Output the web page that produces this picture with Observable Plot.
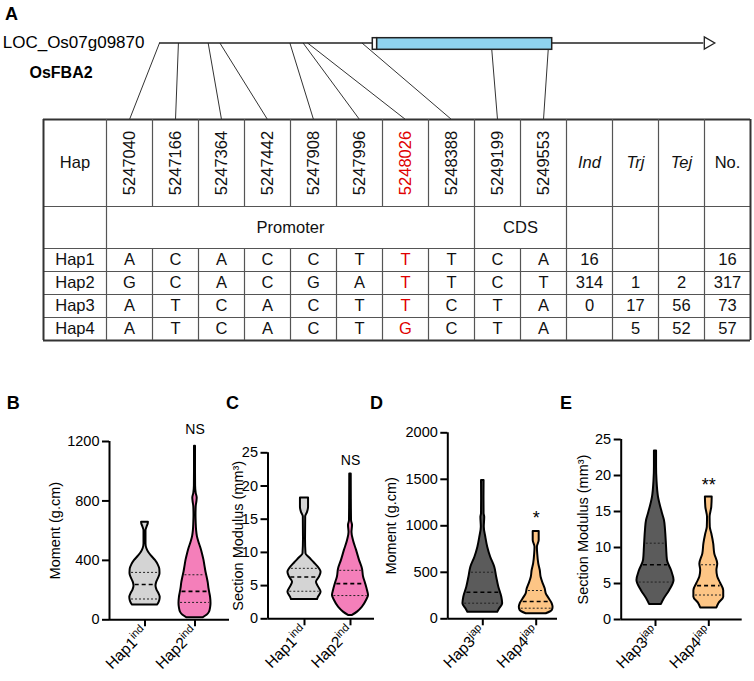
<!DOCTYPE html>
<html><head><meta charset="utf-8">
<script src="https://cdn.jsdelivr.net/npm/d3@7"></script>
<script src="https://cdn.jsdelivr.net/npm/@observablehq/plot@0.6"></script>
<style>
body{margin:0;background:#fff;}
#wrap{position:relative;width:754px;height:681px;overflow:hidden;font-family:"Liberation Sans",Arial,sans-serif;color:#000;}
#wrap svg{position:absolute;left:0;top:0;}
.pl{position:absolute;font-weight:bold;font-size:18px;line-height:18px;}
</style></head><body><div id="wrap"></div>
<script>
// ---------------- DATA ----------------
const geneName = "LOC_Os07g09870";
const geneAlias = "OsFBA2";
// gene model breakpoints (bp): line start, 5'UTR start, CDS start, CDS end, gene end
const geneBreaks = [5247040, 5248460, 5248480, 5249578, 5250600];
const snpPositions = [5247040, 5247166, 5247364, 5247442, 5247908, 5247996, 5248026, 5248388, 5249199, 5249553];
const keySnp = 5248026;
const regionNames = ["Promoter", "CDS"];
const regionSizes = [8, 2];
const popColumns = ["Ind", "Trj", "Tej", "No."];
const hapNames = ["Hap1", "Hap2", "Hap3", "Hap4"];
const hapAlleles = [
  ["A","C","A","C","C","T","T","T","C","A"],
  ["G","C","A","C","G","A","T","T","C","T"],
  ["A","T","C","A","C","T","T","C","T","A"],
  ["A","T","C","A","C","T","G","C","T","A"]
];
const indCounts = [16, 314, 0, null];
const trjCounts = [null, 1, 17, 5];
const tejCounts = [null, 2, 56, 52];
const totalCounts = [16, 317, 73, 57];

// violin profiles: [value, relative density]
const bHap1 = [[99,0.62],[110,0.68],[130,0.74],[150,0.76],[175,0.7],[200,0.6],[225,0.55],[250,0.58],[280,0.68],[310,0.75],[340,0.74],[370,0.66],[400,0.52],[430,0.32],[455,0.18],[480,0.09],[510,0.05],[600,0.05],[615,0.08],[630,0.12],[645,0.16],[657,0.17]];
const bHap2 = [[13,0.4],[30,0.6],[50,0.72],[80,0.78],[110,0.8],[150,0.78],[180,0.74],[210,0.7],[250,0.66],[290,0.6],[320,0.55],[360,0.5],[400,0.45],[440,0.38],[480,0.3],[520,0.2],[560,0.12],[600,0.08],[650,0.06],[700,0.05],[760,0.06],[800,0.1],[820,0.11],[850,0.06],[900,0.03],[1000,0.025],[1168,0.025]];
const cHap1 = [[2.9,0.71],[3.25,0.76],[4.0,0.9],[4.8,0.76],[5.5,0.65],[6.3,0.82],[7.0,0.9],[7.5,0.82],[8.4,0.54],[9.2,0.27],[9.8,0.08],[12,0.055],[15.4,0.065],[16.0,0.16],[16.8,0.22],[18.2,0.22]];
const cHap2 = [[0.5,0.11],[1.0,0.38],[1.75,0.65],[2.75,0.87],[3.5,0.98],[4.3,0.92],[5.3,0.82],[6.3,0.71],[7.5,0.65],[8.8,0.49],[10.3,0.33],[11.8,0.16],[13.0,0.08],[14.05,0.11],[14.8,0.055],[18,0.045],[21.8,0.04]];
const dHap3 = [[71,0.7],[108,0.79],[161,0.93],[232,0.89],[340,0.75],[447,0.65],[555,0.56],[662,0.37],[770,0.23],[877,0.14],[985,0.07],[1092,0.09],[1129,0.06],[1300,0.056],[1487,0.06]];
const dHap4 = [[54,0.47],[89,0.75],[125,0.79],[161,0.75],[215,0.61],[269,0.47],[323,0.42],[376,0.33],[447,0.23],[519,0.19],[591,0.12],[699,0.07],[770,0.056],[842,0.14],[939,0.14]];
const eHap3 = [[2.1,0.28],[2.9,0.42],[4.0,0.66],[5.4,0.87],[6.8,0.75],[8.2,0.56],[10.0,0.52],[12.4,0.47],[13.75,0.42],[14.7,0.33],[17.0,0.14],[19.3,0.07],[21.2,0.05],[23.4,0.05]];
const eHap4 = [[1.6,0.38],[2.2,0.47],[3.1,0.7],[4.0,0.7],[5.0,0.56],[5.9,0.42],[6.8,0.38],[7.7,0.42],[9.1,0.28],[10.5,0.23],[11.9,0.14],[12.8,0.07],[14.2,0.06],[15.6,0.14],[17.0,0.16]];
// quartiles [q1, median, q3]
const bQuart = [[140,238,319],[117,191,303]];
const cQuart = [[4.15,6.3,7.6],[3.5,5.3,7.3]];
const dQuart = [[168,286,501],[114,186,304]];
const eQuart = [[5.2,7.6,10.6],[3.4,4.7,7.6]];
const indLabels = ["Hap1|ind", "Hap2|ind"];
const japLabels = ["Hap3|jap", "Hap4|jap"];
const momentTicks = [0, 400, 800, 1200];
const modulusTicks = [0, 5, 10, 15, 20, 25];
const momentTicksJap = [0, 500, 1000, 1500, 2000];
const sigLabels = ["NS", "NS", "*", "**"];

// ---------------- LAYOUT ----------------
const W = 754, H = 681;
const FONT = '"Liberation Sans", Arial, sans-serif';
const wrap = document.getElementById("wrap");
const T = {left: 43, firstW: 63, colW: 46, rows: [119, 206, 248, 271, 294, 317, 340]};
const colEdge = k => k === 0 ? T.left : T.left + T.firstW + (k - 1) * T.colW;
const colMid = k => (colEdge(k) + colEdge(k + 1)) / 2;
const nCols = 1 + snpPositions.length + popColumns.length;
const rowMid = r => (T.rows[r] + T.rows[r + 1]) / 2;
const geneY = 42.5, boxTop = 37.7, boxBottom = 49.3;
const geneX = Plot.scale({x: {type: "linear", domain: geneBreaks, range: [159, 372.3, 376.7, 551.7, 703.3]}});
const cdsStart = geneBreaks[2];

// ---- table geometry
const hLinesInner = T.rows.slice(1, -1).map(y => ({y}));
const hLinesOuter = [T.rows[0], T.rows[T.rows.length - 1]].map(y => ({y}));
const merged = new Set();
let start = 1;
regionSizes.forEach(n => { for (let k = start + 1; k < start + n; k++) merged.add(k); start += n; });
const vSegs = [];
for (let k = 0; k <= nCols; k++) {
  const outer = k === 0 || k === nCols;
  vSegs.push({x: colEdge(k), y1: T.rows[0], y2: T.rows[1], outer});
  if (!merged.has(k)) vSegs.push({x: colEdge(k), y1: T.rows[1], y2: T.rows[2], outer});
  vSegs.push({x: colEdge(k), y1: T.rows[2], y2: T.rows[6], outer});
}
const cells = [];
cells.push({x: colMid(0), y: rowMid(0), text: "Hap", red: false});
popColumns.forEach((p, j) => { if (p === "No.") cells.push({x: colMid(11 + j), y: rowMid(0), text: p, red: false}); });
start = 1;
regionNames.forEach((r, i) => {
  const n = regionSizes[i];
  cells.push({x: (colEdge(start) + colEdge(start + n)) / 2, y: rowMid(1), text: r, red: false});
  start += n;
});
hapNames.forEach((h, i) => {
  const y = rowMid(2 + i);
  cells.push({x: colMid(0), y, text: h, red: false});
  hapAlleles[i].forEach((a, j) => cells.push({x: colMid(1 + j), y, text: a, red: snpPositions[j] === keySnp}));
  [indCounts, trjCounts, tejCounts, totalCounts].forEach((arr, j) => {
    if (arr[i] !== null) cells.push({x: colMid(11 + j), y, text: String(arr[i]), red: false});
  });
});
const snpHead = snpPositions.map((p, j) => ({x: colMid(1 + j), y: rowMid(0), text: String(p), red: p === keySnp}));
const popHead = popColumns.filter(p => p !== "No.").map(p => ({x: colMid(11 + popColumns.indexOf(p)), y: rowMid(0), text: p}));
const links = snpPositions.map((p, j) => ({
  x1: geneX.apply(p), y1: p >= cdsStart ? boxBottom : geneY, x2: colMid(1 + j), y2: T.rows[0]
}));

const plotA = Plot.plot({
  width: W, height: H, margin: 0,
  x: {type: "identity", axis: null}, y: {type: "identity", axis: null},
  style: {fontFamily: FONT, fontSize: "16.5px", color: "black", background: "transparent"},
  marks: [
    Plot.link(links, {x1: "x1", y1: "y1", x2: "x2", y2: "y2", stroke: "#333", strokeWidth: 1}),
    Plot.ruleY([geneY], {x1: geneX.apply(geneBreaks[0]), x2: geneX.apply(geneBreaks[4]), stroke: "#222", strokeWidth: 1.5}),
    Plot.rect([0], {x1: geneX.apply(geneBreaks[1]), x2: geneX.apply(geneBreaks[2]), y1: boxTop, y2: boxBottom, fill: "white", stroke: "#222", strokeWidth: 1.5}),
    Plot.rect([0], {x1: geneX.apply(geneBreaks[2]), x2: geneX.apply(geneBreaks[3]), y1: boxTop, y2: boxBottom, fill: "#8fd3ef", stroke: "#222", strokeWidth: 1.5}),
    Plot.dot([0], {x: geneX.apply(geneBreaks[4]), y: geneY, dx: 4, symbol: "triangle", rotate: 90, r: 4.5, fill: "white", stroke: "#222", strokeWidth: 1.3}),
    Plot.text([geneName], {x: geneX.apply(geneBreaks[0]), y: geneY, dx: -15, textAnchor: "end", fontSize: 17}),
    Plot.text([geneAlias], {x: geneX.apply(geneBreaks[0]), y: geneY, dx: -130, dy: 30, textAnchor: "start", fontSize: 16, fontWeight: "bold"}),
    Plot.ruleY(hLinesInner, {y: "y", x1: T.left, x2: colEdge(nCols), stroke: "#555", strokeWidth: 1.2}),
    Plot.ruleY(hLinesOuter, {y: "y", x1: T.left, x2: colEdge(nCols), stroke: "#333", strokeWidth: 2}),
    Plot.ruleX(vSegs.filter(d => !d.outer), {x: "x", y1: "y1", y2: "y2", stroke: "#555", strokeWidth: 1.2}),
    Plot.ruleX(vSegs.filter(d => d.outer), {x: "x", y1: "y1", y2: "y2", stroke: "#333", strokeWidth: 2}),
    Plot.text(cells.filter(d => !d.red), {x: "x", y: "y", text: "text", fill: "#111"}),
    Plot.text(cells.filter(d => d.red), {x: "x", y: "y", text: "text", fill: "#e00000"}),
    Plot.text(snpHead.filter(d => !d.red), {x: "x", y: "y", text: "text", rotate: -90, fill: "#111"}),
    Plot.text(snpHead.filter(d => d.red), {x: "x", y: "y", text: "text", rotate: -90, fill: "#e00000"}),
    Plot.text(popHead, {x: "x", y: "y", text: "text", fontStyle: "italic", fill: "#111"})
  ]
});
wrap.appendChild(plotA);

// ---- violin panels
function widthAt(profile, v) {
  for (let i = 1; i < profile.length; i++) {
    if (v <= profile[i][0]) {
      const [a, wa] = profile[i - 1], [b, wb] = profile[i];
      return wa + (wb - wa) * (v - a) / (b - a);
    }
  }
  return profile[profile.length - 1][1];
}
function violinPanel(o) {
  const unit = o.tickPx[1] - o.tickPx[0];
  const lo = 1 - (o.tickPx[0] - o.axisLeft) / unit;
  const hi = 2 + (o.axisRight - o.tickPx[1]) / unit;
  const HW = 0.4;
  const yMax = o.yTicks[o.yTicks.length - 1];
  const marks = [];
  o.groups.forEach((g, i) => {
    const c = i + 1;
    marks.push(Plot.areaX(g.profile, {y: d => d[0], x1: d => c - d[1] * HW, x2: d => c + d[1] * HW,
      fill: g.fill, stroke: "black", strokeWidth: 2, curve: "monotone-y"}));
    const q = g.quart.map((v, k) => ({v, k, w: widthAt(g.profile, v) * HW}));
    marks.push(Plot.ruleY(q.filter(d => d.k !== 1), {y: "v", x1: d => c - d.w + 0.03, x2: d => c + d.w - 0.03,
      stroke: "#222", strokeWidth: 1, strokeDasharray: "2,2"}));
    marks.push(Plot.ruleY(q.filter(d => d.k === 1), {y: "v", x1: d => c - d.w + 0.03, x2: d => c + d.w - 0.03,
      stroke: "#000", strokeWidth: 1.6, strokeDasharray: "4,3"}));
  });
  marks.push(
    Plot.ruleX([lo], {y1: 0, y2: yMax, strokeWidth: 2}),
    Plot.ruleY([0], {x1: lo, x2: hi, strokeWidth: 2}),
    Plot.axisY({ticks: o.yTicks, tickFormat: d => String(d), tickSize: 7, tickPadding: 3, fontSize: 14.5, label: null, strokeWidth: 2}),
    Plot.axisX({ticks: [1, 2], tickFormat: d => o.labels[d - 1], tickRotate: -45, tickSize: 7, tickPadding: 3, fontSize: 15.5, label: null, strokeWidth: 2}),
    Plot.text([o.yLabel], {frameAnchor: "left", textAnchor: "middle", dx: o.labelDx, rotate: -90, fontSize: 14.5}),
    Plot.text([o.sig], {x: 2, y: o.groups[1].profile[o.groups[1].profile.length - 1][0], dy: o.sigDy, fontSize: o.sigSize})
  );
  const svg = Plot.plot({
    width: W, height: H,
    marginLeft: o.axisLeft, marginRight: W - o.axisRight, marginTop: o.yTopPx, marginBottom: H - o.y0Px,
    x: {domain: [lo, hi]}, y: {domain: [0, yMax]},
    style: {fontFamily: FONT, fontSize: "14.5px", color: "black", background: "transparent", overflow: "visible"},
    marks
  });
  svg.querySelectorAll('g[aria-label="x-axis tick label"] text').forEach(t => {
    const s = t.textContent;
    if (s.includes("|")) {
      const [base, sup] = s.split("|");
      t.textContent = base;
      const ts = document.createElementNS("http://www.w3.org/2000/svg", "tspan");
      ts.setAttribute("dy", "-6");
      ts.setAttribute("font-size", "11");
      ts.textContent = sup;
      t.appendChild(ts);
    }
  });
  wrap.appendChild(svg);
}
const gray = "#d4d4d4", pink = "#f47fba", dark = "#5b5b5b", orange = "#fdc585";
violinPanel({axisLeft: 109, axisRight: 229, y0Px: 619.3, yTopPx: 441, tickPx: [144.5, 194.5], yTicks: momentTicks,
  yLabel: "Moment (g.cm)", labelDx: -54, labels: indLabels, sig: sigLabels[0], sigDy: -17, sigSize: 14,
  groups: [{profile: bHap1, quart: bQuart[0], fill: gray}, {profile: bHap2, quart: bQuart[1], fill: pink}]});
violinPanel({axisLeft: 267.5, axisRight: 374, y0Px: 618.3, yTopPx: 452.3, tickPx: [304, 350], yTicks: modulusTicks,
  yLabel: "Section Modulus (mm³)", labelDx: -30, labels: indLabels, sig: sigLabels[1], sigDy: -13.5, sigSize: 14,
  groups: [{profile: cHap1, quart: cQuart[0], fill: gray}, {profile: cHap2, quart: cQuart[1], fill: pink}]});
violinPanel({axisLeft: 447.3, axisRight: 557, y0Px: 618.3, yTopPx: 432.3, tickPx: [482.3, 535.7], yTicks: momentTicksJap,
  yLabel: "Moment (g.cm)", labelDx: -56.5, labels: japLabels, sig: sigLabels[2], sigDy: -13, sigSize: 18,
  groups: [{profile: dHap3, quart: dQuart[0], fill: dark}, {profile: dHap4, quart: dQuart[1], fill: orange}]});
violinPanel({axisLeft: 620.7, axisRight: 741.7, y0Px: 619, yTopPx: 439, tickPx: [655, 708.3], yTicks: modulusTicks,
  yLabel: "Section Modulus (mm³)", labelDx: -37.4, labels: japLabels, sig: sigLabels[3], sigDy: -12, sigSize: 18,
  groups: [{profile: eHap3, quart: eQuart[0], fill: dark}, {profile: eHap4, quart: eQuart[1], fill: orange}]});

// panel letters
[["A", 5, 4.6], ["B", 6.7, 394.4], ["C", 226, 394.4], ["D", 370, 394.4], ["E", 560, 394.4]].forEach(([t, x, y]) => {
  const d = document.createElement("div");
  d.className = "pl"; d.textContent = t; d.style.left = x + "px"; d.style.top = y + "px";
  wrap.appendChild(d);
});
</script></body></html>
